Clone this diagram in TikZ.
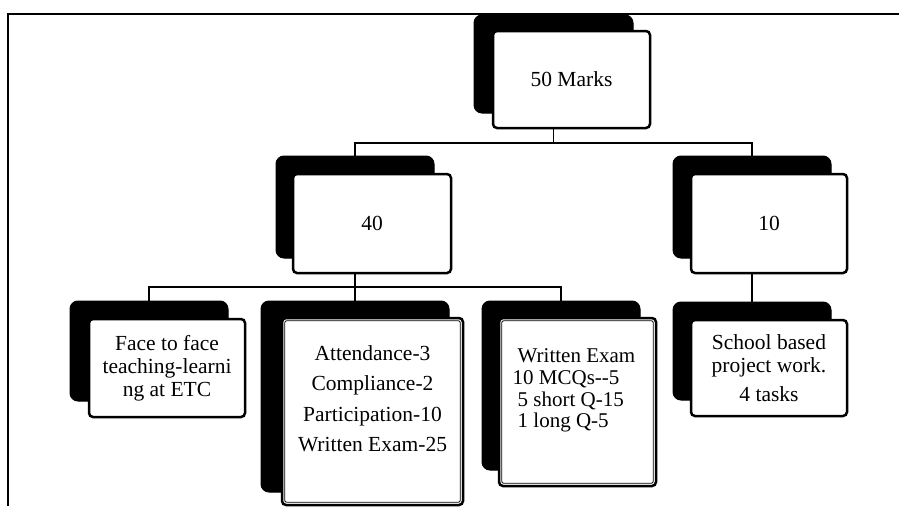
\documentclass[tikz,border=0pt]{standalone}
\usepackage{fontspec}
\setmainfont{Liberation Serif}
\usetikzlibrary{backgrounds}
\begin{document}
\begin{tikzpicture}[x=1pt,y=-1pt,
  shadowbox/.style={draw=black,fill=black,rounded corners=8pt,inner sep=0pt,line width=1pt},
  frontbox/.style={draw=black,fill=white,rounded corners=4pt,line width=2.5pt,inner sep=0pt,align=center,font=\fontsize{21.5}{23}\selectfont},
  innerline/.style={draw=black,line width=0.8pt,rounded corners=2pt},
  conn/.style={draw=black,line width=1.7pt},
  boxtext/.style={inner sep=0pt,font=\fontsize{21.5}{30.5}\selectfont},
  frameline/.style={draw=black,line width=2pt}]
\useasboundingbox (0,0) rectangle (899,506);
% outer frame
\coordinate (fr1) at (8,506);
\coordinate (fr2) at (8,13.5);
\coordinate (fr3) at (899,13.5);
\draw[frameline] (fr1) -- (fr2) -- (fr3);
% shadows
\node[shadowbox,minimum width=159pt,minimum height=98pt] (s50) at (553.5,64) {};
\node[shadowbox,minimum width=158pt,minimum height=102pt] (s40) at (355,207) {};
\node[shadowbox,minimum width=158pt,minimum height=102pt] (s10) at (752,207) {};
\node[shadowbox,minimum width=158pt,minimum height=100pt] (sFace) at (149,351) {};
\node[shadowbox,minimum width=188pt,minimum height=191pt] (sAtt) at (355,396.5) {};
\node[shadowbox,minimum width=158pt,minimum height=169pt] (sWr) at (561,385.5) {};
\node[shadowbox,minimum width=158pt,minimum height=98pt] (sSch) at (752,351) {};
% front boxes
\node[frontbox,minimum width=157pt,minimum height=97pt] (f50) at (571.5,79.5) {50 Marks};
\node[frontbox,minimum width=158pt,minimum height=99pt] (f40) at (372,223.5) {40};
\node[frontbox,minimum width=156pt,minimum height=99pt] (f10) at (769,223.5) {10};
\node[frontbox,minimum width=156pt,minimum height=98pt] (fFace) at (167,368) {Face to face\\teaching-learni\\ng at ETC};
\node[frontbox,minimum width=181pt,minimum height=187pt] (fAtt) at (372.5,411.5) {};
\node[frontbox,minimum width=157pt,minimum height=168pt] (fWr) at (577.5,402) {};
\node[frontbox,minimum width=156pt,minimum height=96pt,font=\fontsize{21.5}{23.5}\selectfont] (fSch) at (769,368) {School based\\project work.\\[5pt]4 tasks};
% inner lines
\draw[innerline] ([shift={(4pt,-4pt)}]fAtt.north west) rectangle ([shift={(-4pt,4pt)}]fAtt.south east);
\draw[innerline] ([shift={(4pt,-4pt)}]fWr.north west) rectangle ([shift={(-4pt,4pt)}]fWr.south east);
% texts
\node[boxtext,anchor=north,align=center] (tAtt) at (372.5,345.3) {Attendance-3\\Compliance-2\\Participation-10\\Written Exam-25};
\node[boxtext,anchor=north west,align=left,font=\fontsize{21}{21.7}\selectfont] (tWr) at (517.5,348.5) {Written Exam\\\hspace*{-5pt}10 MCQs-{}-5\\5 short Q-15\\1 long Q-5};
% connectors
\begin{scope}[on background layer]
\coordinate (b1) at (553.5,143);
\coordinate (b2) at (355,287);
\draw[conn] (s50.south) -- (b1);
\draw[conn] (s40.north) |- (b1) -| (s10.north);
\draw[conn] (s40.south) -- (b2);
\draw[conn] (sFace.north) |- (b2) -| (sWr.north);
\draw[conn] (b2) -- (sAtt.north);
\draw[conn] (s10.south) -- (sSch.north);
\end{scope}
\end{tikzpicture}
\end{document}
